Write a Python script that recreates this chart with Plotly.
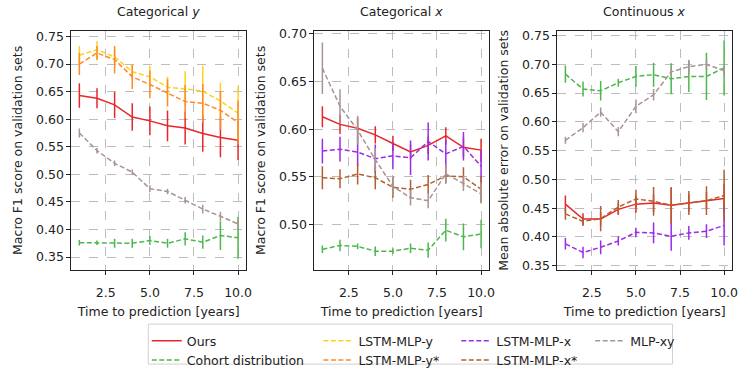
import plotly.graph_objects as go

years = [1, 2, 3, 4, 5, 6, 7, 8, 9, 10]

# Panel 1: Categorical y (Macro F1)
ours_cy = [0.643, 0.638, 0.626, 0.604, 0.597, 0.588, 0.584, 0.574, 0.567, 0.562]
ours_cy_err = [0.022, 0.018, 0.024, 0.025, 0.026, 0.028, 0.030, 0.033, 0.036, 0.036]
cohort_cy = [0.376, 0.376, 0.375, 0.375, 0.380, 0.375, 0.383, 0.377, 0.389, 0.385]
cohort_cy_err = [0.005, 0.004, 0.008, 0.008, 0.008, 0.008, 0.012, 0.012, 0.026, 0.038]
lstm_y_cy = [0.716, 0.726, 0.713, 0.686, 0.677, 0.658, 0.655, 0.651, 0.633, 0.611]
lstm_y_cy_err = [0.017, 0.016, 0.014, 0.014, 0.020, 0.019, 0.032, 0.046, 0.033, 0.048]
lstm_ys_cy = [0.700, 0.720, 0.708, 0.677, 0.663, 0.648, 0.632, 0.629, 0.616, 0.594]
lstm_ys_cy_err = [0.020, 0.013, 0.025, 0.022, 0.025, 0.025, 0.030, 0.035, 0.035, 0.040]
mlp_cy = [0.575, 0.543, 0.520, 0.504, 0.474, 0.469, 0.453, 0.437, 0.424, 0.410]
mlp_cy_err = [0.008, 0.005, 0.005, 0.005, 0.006, 0.005, 0.006, 0.008, 0.008, 0.008]

# Panel 2: Categorical x (Macro F1)
ours_cx = [0.613, 0.605, 0.601, 0.594, 0.585, 0.576, 0.583, 0.593, 0.581, 0.578]
ours_cx_err = [0.011, 0.010, 0.011, 0.009, 0.008, 0.008, 0.009, 0.009, 0.010, 0.012]
cohort_cx = [0.474, 0.478, 0.477, 0.472, 0.472, 0.475, 0.473, 0.494, 0.487, 0.490]
cohort_cx_err = [0.004, 0.006, 0.003, 0.005, 0.003, 0.005, 0.008, 0.012, 0.014, 0.015]
lstm_x_cx = [0.577, 0.579, 0.576, 0.569, 0.572, 0.570, 0.587, 0.574, 0.582, 0.561]
lstm_x_cx_err = [0.013, 0.013, 0.015, 0.015, 0.014, 0.018, 0.020, 0.015, 0.015, 0.017]
lstm_xs_cx = [0.549, 0.548, 0.553, 0.549, 0.539, 0.537, 0.542, 0.551, 0.550, 0.537]
lstm_xs_cx_err = [0.012, 0.010, 0.011, 0.012, 0.011, 0.010, 0.010, 0.008, 0.010, 0.014]
mlp_cx = [0.664, 0.624, 0.599, 0.568, 0.540, 0.528, 0.525, 0.553, 0.543, 0.532]
mlp_cx_err = [0.027, 0.018, 0.015, 0.012, 0.010, 0.008, 0.008, 0.010, 0.008, 0.010]

# Panel 3: Continuous x (MAE)
ours_co = [0.457, 0.431, 0.431, 0.448, 0.457, 0.459, 0.455, 0.459, 0.463, 0.467]
ours_co_err = [0.015, 0.010, 0.012, 0.010, 0.015, 0.015, 0.030, 0.015, 0.015, 0.025]
cohort_co = [0.683, 0.657, 0.654, 0.668, 0.679, 0.682, 0.675, 0.679, 0.679, 0.694]
cohort_co_err = [0.015, 0.013, 0.017, 0.007, 0.018, 0.021, 0.027, 0.027, 0.041, 0.048]
lstm_x_co = [0.388, 0.373, 0.382, 0.393, 0.408, 0.407, 0.401, 0.407, 0.410, 0.420]
lstm_x_co_err = [0.010, 0.010, 0.012, 0.008, 0.008, 0.018, 0.025, 0.012, 0.012, 0.035]
lstm_xs_co = [0.440, 0.427, 0.432, 0.452, 0.466, 0.462, 0.455, 0.459, 0.463, 0.472]
lstm_xs_co_err = [0.010, 0.008, 0.022, 0.012, 0.016, 0.025, 0.032, 0.021, 0.025, 0.045]
mlp_co = [0.568, 0.590, 0.617, 0.583, 0.627, 0.647, 0.687, 0.696, 0.700, 0.689]
mlp_co_err = [0.006, 0.008, 0.008, 0.008, 0.012, 0.010, 0.008, 0.012, 0.010, 0.008]

panel_titles = ["Categorical <i>y</i>", "Categorical <i>x</i>", "Continuous <i>x</i>"]
y_titles = ["Macro F1 score on validation sets", "Macro F1 score on validation sets",
            "Mean absolute error on validation sets"]
x_title = "Time to prediction [years]"
x_tickvals = [2.5, 5.0, 7.5, 10.0]
x_ticktext = ["2.5", "5.0", "7.5", "10.0"]

styles = {
    "Ours": dict(color="#e8262b", dash="solid", legend="legend"),
    "Cohort distribution": dict(color="#4cb84c", dash="5px,2.5px", legend="legend"),
    "LSTM-MLP-y": dict(color="#ffd21a", dash="5px,2.5px", legend="legend2"),
    "LSTM-MLP-y*": dict(color="#ff8a26", dash="5px,2.5px", legend="legend2"),
    "LSTM-MLP-x": dict(color="#9a2ce6", dash="5px,2.5px", legend="legend3"),
    "LSTM-MLP-x*": dict(color="#b35e30", dash="5px,2.5px", legend="legend3"),
    "MLP-xy": dict(color="#a89494", dash="5px,2.5px", legend="legend4"),
}

panels = [
    [("Ours", ours_cy, ours_cy_err), ("Cohort distribution", cohort_cy, cohort_cy_err),
     ("LSTM-MLP-y", lstm_y_cy, lstm_y_cy_err), ("LSTM-MLP-y*", lstm_ys_cy, lstm_ys_cy_err),
     ("MLP-xy", mlp_cy, mlp_cy_err)],
    [("Ours", ours_cx, ours_cx_err), ("Cohort distribution", cohort_cx, cohort_cx_err),
     ("LSTM-MLP-x", lstm_x_cx, lstm_x_cx_err), ("LSTM-MLP-x*", lstm_xs_cx, lstm_xs_cx_err),
     ("MLP-xy", mlp_cx, mlp_cx_err)],
    [("Ours", ours_co, ours_co_err), ("Cohort distribution", cohort_co, cohort_co_err),
     ("LSTM-MLP-x", lstm_x_co, lstm_x_co_err), ("LSTM-MLP-x*", lstm_xs_co, lstm_xs_co_err),
     ("MLP-xy", mlp_co, mlp_co_err)],
]

W, H = 742, 375
FONT = "DejaVu Sans"
FS = 12.5

fig = go.Figure()
shown = set()
for i, series in enumerate(panels):
    ax = "" if i == 0 else str(i + 1)
    for name, vals, errs in series:
        st = styles[name]
        fig.add_trace(go.Scatter(
            x=years, y=vals, name=name, mode="lines",
            line=dict(color=st["color"], width=1.5, dash=st["dash"]),
            error_y=dict(type="data", array=errs, visible=True, color=st["color"],
                         thickness=1.5, width=0),
            xaxis="x" + ax, yaxis="y" + ax,
            legend=st["legend"], showlegend=name not in shown,
        ))
        shown.add(name)

x_domains = [(72, 248), (317, 493), (562, 738)]
y_ranges = [(0.327, 0.760), (0.4525, 0.703), (0.343, 0.758)]
y_ticks = [[0.35, 0.40, 0.45, 0.50, 0.55, 0.60, 0.65, 0.70, 0.75],
           [0.50, 0.55, 0.60, 0.65, 0.70],
           [0.35, 0.40, 0.45, 0.50, 0.55, 0.60, 0.65, 0.70, 0.75]]
ydom = [(H - 275) / H, (H - 27) / H]

layout = dict(
    width=W, height=H, margin=dict(l=0, r=0, t=0, b=0),
    paper_bgcolor="white", plot_bgcolor="white",
    font=dict(family=FONT, size=FS, color="#222222"),
    annotations=[], shapes=[],
)
axis_common = dict(showline=True, mirror=True, linecolor="#222222", linewidth=1,
                   ticks="outside", ticklen=4, tickcolor="#222222", tickwidth=1,
                   showgrid=True, gridcolor="#bdbdbd", griddash="dash", gridwidth=0.8,
                   zeroline=False, tickfont=dict(family=FONT, size=FS, color="#222222"))
for i in range(3):
    ax = "" if i == 0 else str(i + 1)
    x0, x1 = x_domains[i]
    layout["xaxis" + ax] = dict(axis_common, domain=[x0 / W, x1 / W], range=[0.55, 10.45],
                                tickvals=x_tickvals, ticktext=x_ticktext,
                                anchor="y" + ax, ticklabelstandoff=7,
                                title=dict(text=x_title, standoff=8,
                                           font=dict(family=FONT, size=FS, color="#222222")))
    layout["yaxis" + ax] = dict(axis_common, domain=list(ydom), range=list(y_ranges[i]),
                                tickvals=y_ticks[i], tickformat=".2f", anchor="x" + ax,
                                title=dict(text=y_titles[i], standoff=10,
                                           font=dict(family=FONT, size=FS, color="#222222")))
    layout["annotations"].append(dict(
        text=panel_titles[i], x=(x0 + x1) / 2 / W, y=(H - 7) / H, xref="paper", yref="paper",
        xanchor="center", yanchor="middle", showarrow=False,
        font=dict(family=FONT, size=FS, color="#222222")))

leg_common = dict(orientation="v", xanchor="left", yanchor="top", bgcolor="rgba(0,0,0,0)",
                  borderwidth=0, font=dict(family=FONT, size=FS, color="#222222"),
                  tracegroupgap=0, itemwidth=30)
for key, px in [("legend", 148), ("legend2", 321), ("legend3", 460), ("legend4", 595)]:
    layout[key] = dict(leg_common, x=px / W, y=(H - 333.5) / H)

layout["shapes"].append(dict(type="rect", xref="paper", yref="paper",
                             x0=149.5 / W, x1=678 / W, y0=(H - 373) / H, y1=(H - 331.5) / H,
                             line=dict(color="#d0d0d0", width=1), fillcolor="rgba(0,0,0,0)"))

fig.update_layout(**layout)
fig.write_html("out.html")
